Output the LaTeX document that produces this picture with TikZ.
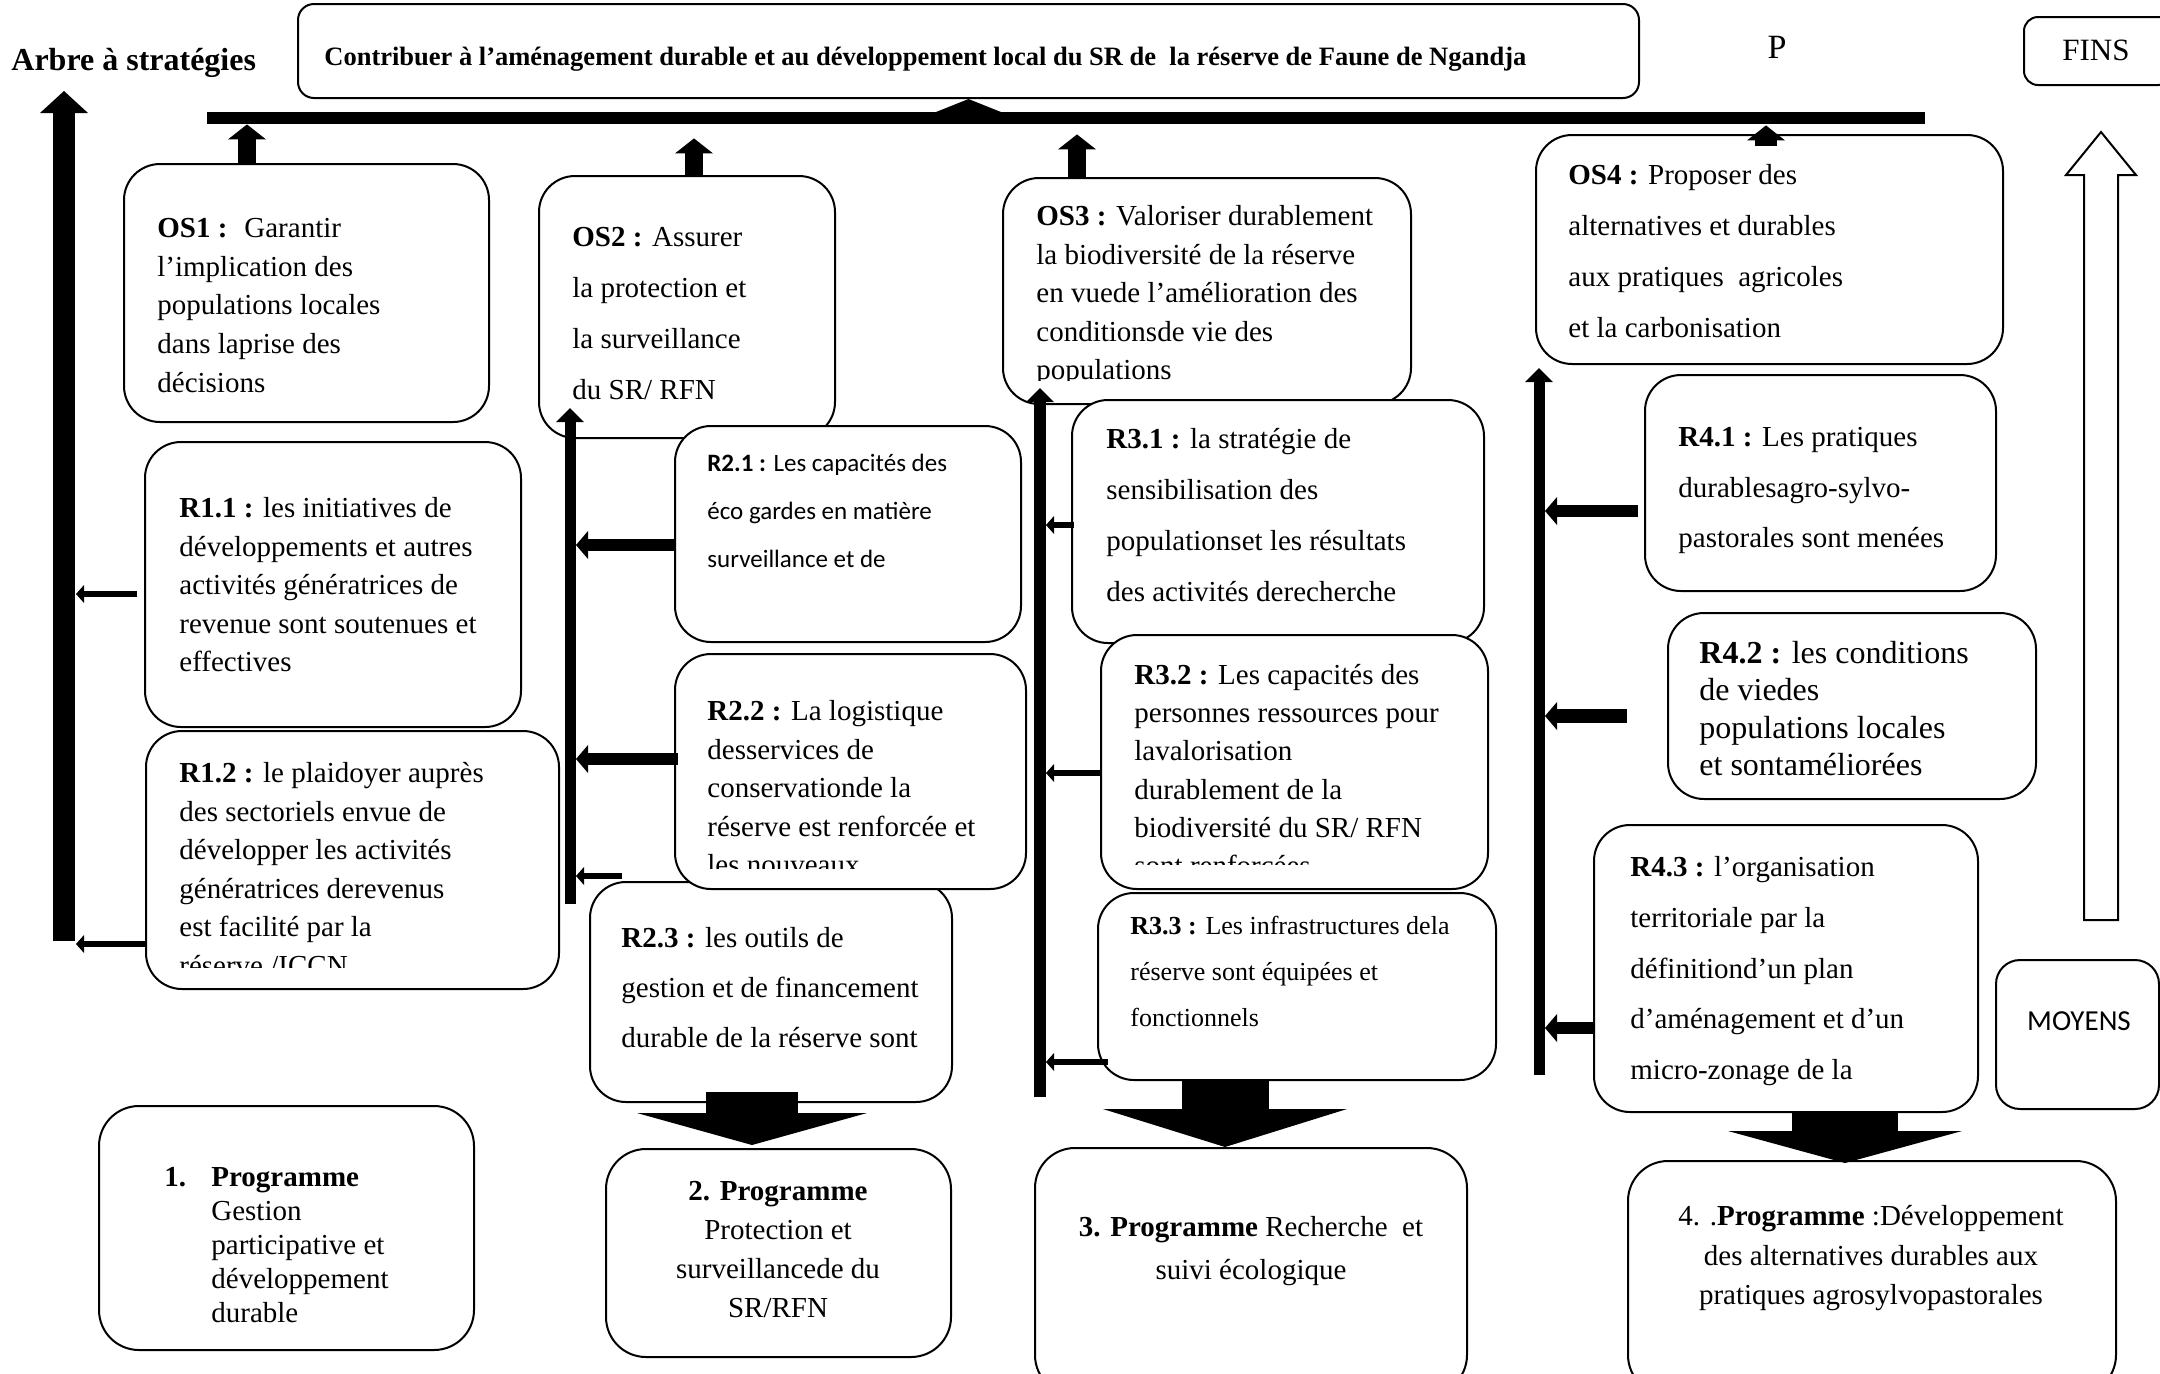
\documentclass[tikz,border=0pt]{standalone}
\usepackage{fontspec}
\setmainfont{Liberation Serif}
\setsansfont{Carlito}
\usetikzlibrary{arrows.meta,calc}
\tikzset{
  box/.style       = {draw, line width=1pt, rounded corners=18pt, fill=white, inner sep=0pt},
  txt/.style       = {inner sep=0pt, align=left, anchor=north west},
  tight/.style     = {font=\fontsize{14.5}{19.3}\selectfont},
  loose/.style     = {font=\fontsize{14.5}{25.5}\selectfont},
  trunk/.style     = {line width=11pt, -{Triangle[length=11pt,width=24pt,line width=0pt]}},
  stem/.style      = {line width=5.5pt, -{Triangle[length=7pt,width=14pt,line width=0pt]}},
  osup/.style      = {line width=9pt, -{Triangle[length=7.5pt,width=19pt,line width=0pt]}},
  feed/.style      = {line width=3pt, -{Triangle[length=4pt,width=9pt,line width=0pt]}},
  thickfeed/.style = {line width=6pt, -{Triangle[length=6pt,width=14pt,line width=0pt]}},
  blockarrow/.style= {line width=46pt, -{Triangle[length=16pt,width=115pt,line width=0pt]}},
  hollow/.style    = {draw, line width=1pt, fill=white},
}
% rounded box from its corners (in picture units)
\newcommand{\rbox}[6][]{\node[box,#1, minimum width={(#5-#3)*0.5pt}, minimum height={(#6-#4)*0.5pt}] (#2) at ({(#3+#5)/2},{(#4+#6)/2}) {};}

\begin{document}
\begin{tikzpicture}[x=0.5pt,y=-0.5pt]
\useasboundingbox (0,0) rectangle (2160,1373);

% goal and top bar
\rbox[rounded corners=8pt]{title}{298}{4}{1639}{98}
\node[font=\bfseries\fontsize{13.25}{16}\selectfont, inner sep=0pt, anchor=west] (titlet) at (324,59) {Contribuer à l’aménagement durable et au développement local du SR de~ la réserve de Faune de Ngandja};
\node[fill, inner sep=0pt, minimum width=859pt, minimum height=6pt] (bar) at (1066,118) {};
\fill (title.south) -- ++(35,14) -- ++(-70,0) -- cycle;

\node[font=\bfseries\fontsize{16}{19}\selectfont, inner sep=0pt, anchor=west] (arbre) at (11,63) {Arbre à stratégies};
\node[font=\fontsize{17}{20}\selectfont, inner sep=0pt] (pmark) at (1777,47) {P};
\rbox[rounded corners=7pt]{fins}{2024}{17}{2172}{85}
\node[font=\fontsize{15.5}{18}\selectfont, inner sep=0pt] (finst) at (2096,50) {FINS};
\draw[hollow] (2084,920) -- (2084,175) -- (2066,175) -- (2101,132) -- (2136,175) -- (2118,175) -- (2118,920) -- cycle;
\rbox[rounded corners=12pt]{moyens}{1996}{960}{2159}{1109}
\node[font=\sffamily\fontsize{14.5}{17}\selectfont, inner sep=0pt] (moyenst) at (2079,1021) {MOYENS};

% objectif 1
\rbox{os1}{124}{164}{489}{422}
\node[txt, tight] (os1t) at (157,218) {\textbf{OS1 :}~ Garantir\\l’implication des\\populations locales\\dans laprise des\\décisions};
\rbox{r11}{145}{442}{521}{727}
\node[txt, tight] (r11t) at (179,497) {\textbf{R1.1 :} les initiatives de\\développements et autres\\activités génératrices de\\revenue sont soutenues et\\effectives};
\rbox{r12}{146}{731}{559}{989}
\begin{scope}
  \clip (146,731) rectangle (559,967);
  \node[txt, tight] (r12t) at (179,762) {\textbf{R1.2 :} le plaidoyer auprès\\des sectoriels envue de\\développer les activités\\génératrices derevenus\\est facilité par la\\réserve /ICCN};
\end{scope}

% objectif 2
\rbox{os2}{539}{176}{835}{438}
\node[txt, loose] (os2t) at (572,227) {\textbf{OS2 :} Assurer\\la protection et\\la surveillance\\du SR/ RFN};
\rbox{r21}{675}{426}{1021}{642}
\node[txt, font=\sffamily\fontsize{12.5}{24}\selectfont] (r21t) at (707,454) {\textbf{R2.1 :} Les capacités des\\éco gardes en matière\\surveillance et de};
\rbox{r23}{590}{882}{952}{1102}
\node[txt, font=\fontsize{14.5}{25}\selectfont] (r23t) at (621,927) {\textbf{R2.3 :} les outils de\\gestion et de financement\\durable de la réserve sont};
\rbox{r22}{675}{654}{1026}{889}
\begin{scope}
  \clip (675,654) rectangle (1026,868);
  \node[txt, tight] (r22t) at (707,700) {\textbf{R2.2 :} La logistique\\desservices de\\conservationde la\\réserve est renforcée et\\les nouveaux};
\end{scope}

% objectif 3
\rbox{os3}{1003}{178}{1411}{404}
\begin{scope}
  \clip (1003,178) rectangle (1411,380);
  \node[txt, tight] (os3t) at (1036,205) {\textbf{OS3 :} Valoriser durablement\\la biodiversité de la réserve\\en vuede l’amélioration des\\conditionsde vie des\\populations};
\end{scope}
\rbox{r31}{1072}{400}{1484}{643}
\node[txt, loose] (r31t) at (1106,428) {\textbf{R3.1 :} la stratégie de\\sensibilisation des\\populationset les résultats\\des activités derecherche};
\rbox{r32}{1101}{635}{1488}{889}
\begin{scope}
  \clip (1101,635) rectangle (1488,864);
  \node[txt, font=\fontsize{14.5}{19.1}\selectfont] (r32t) at (1134,664) {\textbf{R3.2 :} Les capacités des\\personnes ressources pour\\lavalorisation\\durablement de la\\biodiversité du SR/ RFN\\sont renforcées};
\end{scope}
\rbox{r33}{1098}{893}{1496}{1080}
\node[txt, font=\fontsize{13}{23}\selectfont] (r33t) at (1130,916) {\textbf{R3.3 :} Les infrastructures dela\\réserve sont équipées et\\fonctionnels};

% objectif 4
\rbox{os4}{1536}{135}{2003}{364}
\node[txt, loose] (os4t) at (1568,164) {\textbf{OS4 :} Proposer des\\alternatives et durables\\aux pratiques~ agricoles\\et la carbonisation};
\rbox{r41}{1645}{375}{1996}{591}
\node[txt, font=\fontsize{14.5}{25.2}\selectfont] (r41t) at (1678,427) {\textbf{R4.1 :} Les pratiques\\durablesagro-sylvo-\\pastorales sont menées};
\rbox{r42}{1668}{613}{2036}{799}
\node[txt, font=\fontsize{16}{18.6}\selectfont] (r42t) at (1699,641) {\textbf{R4.2 :} les conditions\\de viedes\\populations locales\\et sontaméliorées};
\rbox{r43}{1594}{825}{1978}{1112}
\node[txt, font=\fontsize{14.5}{25.4}\selectfont] (r43t) at (1630,856) {\textbf{R4.3 :} l’organisation\\territoriale par la\\définitiond’un plan\\d’aménagement et d’un\\micro-zonage de la};

% programmes
\rbox[rounded corners=20pt]{p1}{99}{1106}{474}{1350}
\node[txt, font=\fontsize{14.5}{17}\selectfont] (p1t) at (164,1167) {\makebox[23.5pt][l]{\textbf{1.}}\textbf{Programme}\\\hspace*{23.5pt}Gestion\\\hspace*{23.5pt}participative et\\\hspace*{23.5pt}développement\\\hspace*{23.5pt}durable};
\rbox[rounded corners=20pt]{p2}{606}{1149}{951}{1357}
\node[txt, anchor=north, align=center, font=\fontsize{14.5}{19.5}\selectfont] (p2t) at (778,1181) {\textbf{2. Programme}\\Protection et\\surveillancede du\\SR/RFN};
\rbox[rounded corners=20pt]{p3}{1035}{1148}{1467}{1395}
\node[txt, anchor=north, align=center, font=\fontsize{14.5}{21.5}\selectfont] (p3t) at (1251,1216) {\textbf{3. Programme} Recherche~ et\\suivi écologique};
\rbox[rounded corners=20pt]{p4}{1628}{1161}{2116}{1395}
\node[txt, anchor=north, align=center, font=\fontsize{14.5}{19.75}\selectfont] (p4t) at (1871,1205) {4. .\textbf{Programme} :Développement\\des alternatives durables aux\\pratiques agrosylvopastorales};

% group 1
\coordinate (g1b) at (64,941);
\coordinate (g1t) at (64,91);
\draw[trunk] (g1b) -- (g1t);
\draw[feed] ($(r11.west)+(-7,9.5)$) -- ($(g1b |- r11.west)+(12,9.5)$);
\draw[feed] ($(r12.west)+(0,84)$) -- ($(g1b |- r12.west)+(12,84)$);

% group 2
\coordinate (g2b) at (570,904);
\coordinate (g2t) at (570,408);
\draw[stem] (g2b) -- (g2t);
\draw[thickfeed] ($(r21.west)+(1,11)$) -- ($(g2b |- r21.west)+(6,11)$);
\draw[thickfeed] ($(r22.west)+(4,-12.5)$) -- ($(g2b |- r22.west)+(6,-12.5)$);
\draw[feed] ($(r23.north west)+(33,-5)$) -- ($(g2b |- r23.north west)+(6,-5)$);

% group 3
\coordinate (g3b) at (1040,1097);
\coordinate (g3t) at (1040,388);
\draw[stem, line width=6pt] (g3b) -- (g3t);
\draw[feed] ($(r31.west)+(3,3.5)$) -- ($(g3b |- r31.west)+(6,3.5)$);
\draw[feed] ($(r32.west)+(1,11)$) -- ($(g3b |- r32.west)+(6,11)$);
\draw[feed] ($(r33.west)+(11,75.5)$) -- ($(g3b |- r33.west)+(6,75.5)$);

% group 4
\coordinate (g4b) at (1539,1075);
\coordinate (g4t) at (1539,368);
\draw[stem] (g4b) -- (g4t);
\draw[thickfeed] ($(r41.west)+(-6,28)$) -- ($(g4b |- r41.west)+(6,28)$);
\draw[thickfeed, line width=7pt] ($(r42.west)+(-40,10)$) -- ($(g4b |- r42.west)+(6,10)$);
\draw[thickfeed] ($(r43.west)+(0,59.5)$) -- ($(g4b |- r43.west)+(6,59.5)$);

% objectives up to the bar
\draw[osup] ($(os1.north)+(-59.5,0)$) -- ($(os1.north |- bar.south)+(-59.5,0)$);
\draw[osup] ($(os2.north)+(7,0)$) -- ($(os2.north |- bar.south)+(7,14)$);
\draw[osup] ($(os3.north)+(-130,0)$) -- ($(os3.north |- bar.south)+(-130,10)$);
\draw[osup, line width=11pt] ($(os4.north)+(-3.5,12)$) -- ($(os4.north |- bar.south)+(-3.5,1)$);

% results down to programmes
\draw[blockarrow] ($(r23.south)+(-19,-11)$) -- ($(r23.south |- p2.north)+(-19,-3)$);
\draw[blockarrow, line width=43.5pt, -{Triangle[length=19pt,width=122pt,line width=0pt]}] ($(r33.south)+(-72,0)$) -- ($(r33.south |- p3.north)+(-72,0)$);
\draw[blockarrow, line width=53pt, -{Triangle[length=16pt,width=117pt,line width=0pt]}] ($(r43.south)+(59,0)$) -- ($(r43.south |- p4.north)+(59,3)$);
\end{tikzpicture}
\end{document}
